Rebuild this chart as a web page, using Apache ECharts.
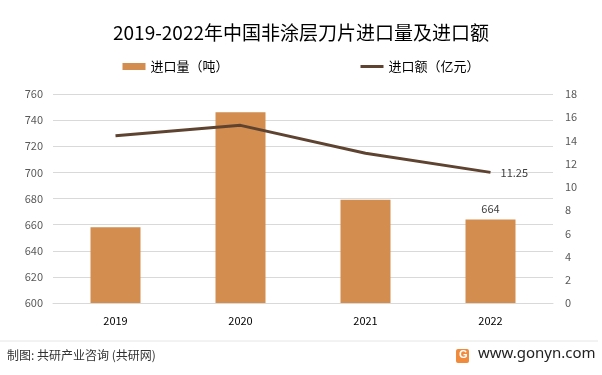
<!DOCTYPE html>
<html>
<head>
<meta charset="utf-8">
<script src="https://cdn.jsdelivr.net/npm/echarts@6/dist/echarts.min.js"></script>
<style>
  html, body { margin: 0; padding: 0; background: #fff; }
  #main { width: 602px; height: 375px; }
</style>
</head>
<body>
<div id="main"></div>
<script>
    var years = ['2019', '2020', '2021', '2022'];
    var volume = [658, 746, 679, 664];        // 进口量（吨）
    var amount = [14.4, 15.3, 12.9, 11.25];    // 进口额（亿元）
    var leftTicks = { min: 600, max: 760, interval: 20 };
    var rightTicks = { min: 0, max: 18, interval: 2 };

    var chart = echarts.init(document.getElementById('main'));
    var font = '"Noto Sans CJK SC", "Noto Sans", sans-serif';

    var option = {
        animation: false,
        textStyle: { fontFamily: font },
        title: {
            text: '2019-2022年中国非涂层刀片进口量及进口额',
            left: 'center',
            top: 18,
            textStyle: { fontSize: 19, fontWeight: 'normal', color: '#000', fontFamily: font }
        },
        legend: {
            top: 55,
            left: 'center',
            itemGap: 132,
            itemWidth: 23,
            itemHeight: 7,
            textStyle: { fontSize: 13, color: '#000' },
            data: [
                { name: '进口量（吨）', icon: 'rect' },
                { name: '进口额（亿元）', icon: 'path://M0,0 L23,0 L23,3 L0,3 Z' }
            ]
        },
        grid: { left: 53, right: 49, top: 94, bottom: 72 },
        xAxis: {
            type: 'category',
            data: years,
            axisLine: { lineStyle: { color: '#d9d9d9' } },
            axisTick: { show: false },
            axisLabel: { color: '#000', fontSize: 11, margin: 12 }
        },
        yAxis: [
            {
                type: 'value',
                min: leftTicks.min, max: leftTicks.max, interval: leftTicks.interval,
                axisLine: { show: false },
                axisTick: { show: false },
                axisLabel: { color: '#595959', fontSize: 11, margin: 10 },
                splitLine: { lineStyle: { color: '#d9d9d9' } }
            },
            {
                type: 'value',
                min: rightTicks.min, max: rightTicks.max, interval: rightTicks.interval,
                axisLine: { show: false },
                axisTick: { show: false },
                axisLabel: { color: '#595959', fontSize: 11, margin: 12 },
                splitLine: { show: false }
            }
        ],
        series: [
            {
                name: '进口量（吨）',
                type: 'bar',
                barWidth: '40%',
                itemStyle: { color: '#D38D4E' },
                data: volume.map(function (v, i) {
                    return i === volume.length - 1
                        ? { value: v, label: { show: true, position: 'top', color: '#404040', fontSize: 11 } }
                        : v;
                })
            },
            {
                name: '进口额（亿元）',
                type: 'line',
                yAxisIndex: 1,
                symbol: 'circle',
                symbolSize: 0.1,
                lineStyle: { color: '#5E4330', width: 3 },
                itemStyle: { color: '#5E4330' },
                data: amount.map(function (v, i) {
                    return i === amount.length - 1
                        ? { value: v, label: { show: true, position: 'right', distance: 10, color: '#404040', fontSize: 11 } }
                        : v;
                })
            }
        ],
        graphic: [
            { type: 'line', shape: { x1: 0, y1: 341, x2: 598, y2: 341 }, style: { stroke: '#e6e6e6', lineWidth: 1 } },
            { type: 'text', left: 7, top: 349, style: { text: '制图: 共研产业咨询 (共研网)', fill: '#333', font: '12px ' + font } },
            { type: 'rect', shape: { x: 456, y: 349, width: 13, height: 14, r: 2 }, style: { fill: '#F08A3C' } },
            { type: 'text', left: 459, top: 349, style: { text: 'G', fill: '#fff', font: 'bold 11px sans-serif' } },
            { type: 'text', left: 478, top: 346, style: { text: 'www.gonyn.com', fill: '#222', font: '15px "Noto Sans", sans-serif' } }
        ]
    };

    chart.setOption(option);
</script>
</body>
</html>
